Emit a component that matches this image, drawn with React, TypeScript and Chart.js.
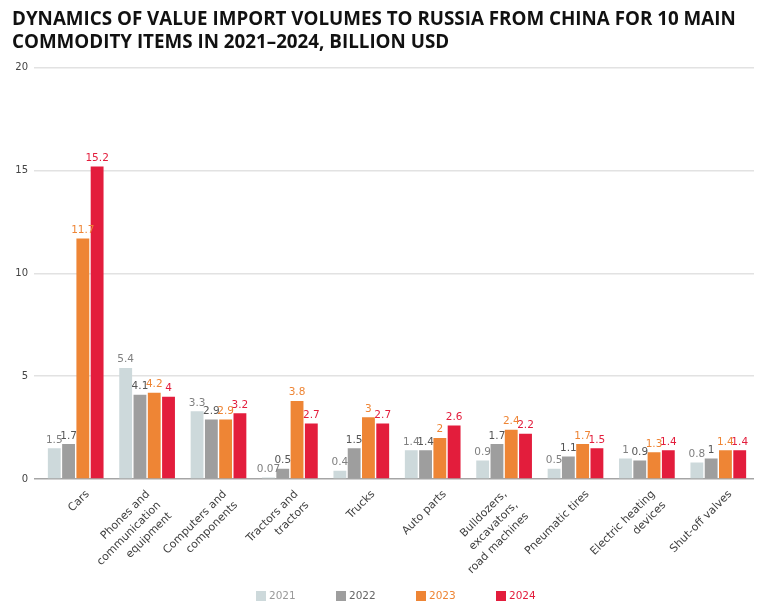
import React, { useEffect, useRef } from "react";
import { Chart, registerables } from "chart.js";

Chart.register(...registerables);

const categories: string[][] = [
  ["Cars"],
  ["Phones and", "communication", "equipment"],
  ["Computers and", "components"],
  ["Tractors and", "tractors"],
  ["Trucks"],
  ["Auto parts"],
  ["Bulldozers,", "excavators,", "road machines"],
  ["Pneumatic tires"],
  ["Electric heating", "devices"],
  ["Shut-off valves"],
];

const years = ["2021", "2022", "2023", "2024"];
const values2021 = [1.5, 5.4, 3.3, 0.07, 0.4, 1.4, 0.9, 0.5, 1, 0.8];
const values2022 = [1.7, 4.1, 2.9, 0.5, 1.5, 1.4, 1.7, 1.1, 0.9, 1];
const values2023 = [11.7, 4.2, 2.9, 3.8, 3, 2, 2.4, 1.7, 1.3, 1.4];
const values2024 = [15.2, 4, 3.2, 2.7, 2.7, 2.6, 2.2, 1.5, 1.4, 1.4];
const yTicks = [0, 5, 10, 15, 20];

const titleLines = [
  "DYNAMICS OF VALUE IMPORT VOLUMES TO RUSSIA FROM CHINA FOR 10 MAIN",
  "COMMODITY ITEMS IN 2021–2024, BILLION USD",
];

const barColors = ["#CDD9DB", "#9E9E9E", "#EE8535", "#E31D3C"];
const labelColors = ["#808080", "#555555", "#EE8535", "#E31D3C"];
const legendTextColors = ["#9a9a9a", "#666666", "#EE8535", "#E31D3C"];

const FONT = "'DejaVu Sans', sans-serif";

const customPlugin = {
  id: "customDraw",
  afterDatasetsDraw(chart: any) {
    const ctx = chart.ctx;
    ctx.save();
    ctx.font = `10.5px ${FONT}`;
    ctx.textAlign = "center";
    ctx.textBaseline = "bottom";
    chart.data.datasets.forEach((ds: any, di: number) => {
      const meta = chart.getDatasetMeta(di);
      ctx.fillStyle = labelColors[di];
      meta.data.forEach((bar: any, i: number) => {
        ctx.fillText(String(ds.data[i]), bar.x, bar.y - 3);
      });
    });
    ctx.restore();
  },
  afterDraw(chart: any) {
    const ctx = chart.ctx;
    const xScale = chart.scales.x;
    const area = chart.chartArea;
    ctx.save();
    ctx.font = `11px ${FONT}`;
    ctx.fillStyle = "#3f3f3f";
    ctx.textAlign = "right";
    ctx.textBaseline = "middle";
    const step = 11;
    categories.forEach((lines, i) => {
      const tx = xScale.getPixelForTick(i);
      const n = lines.length;
      lines.forEach((line, k) => {
        const rx = tx + 12 - ((n - 1) / 2) * step + k * step;
        const ry = area.bottom + 13.5 + k * step;
        ctx.save();
        ctx.translate(rx, ry);
        ctx.rotate(-Math.PI / 4);
        ctx.fillText(line, 0, 0);
        ctx.restore();
      });
    });
    ctx.font = `10.5px ${FONT}`;
    ctx.textAlign = "left";
    ctx.textBaseline = "middle";
    const center = (area.left + area.right) / 2;
    const spacing = 80;
    const start = center - 141;
    const ly = 596;
    years.forEach((y, i) => {
      const bx = start + i * spacing;
      ctx.fillStyle = barColors[i];
      ctx.fillRect(bx, ly - 5, 10, 10);
      ctx.fillStyle = legendTextColors[i];
      ctx.fillText(y, bx + 13, ly + 0.5);
    });
    ctx.restore();
  },
};

export default function App() {
  const canvasRef = useRef<HTMLCanvasElement | null>(null);

  useEffect(() => {
    if (!canvasRef.current) return;
    const seriesValues = [values2021, values2022, values2023, values2024];
    const chart = new Chart(canvasRef.current, {
      type: "bar",
      data: {
        labels: categories.map((c) => c.join(" ")),
        datasets: years.map((y, i) => ({
          label: y,
          data: seriesValues[i],
          backgroundColor: barColors[i],
          borderWidth: 0,
          categoryPercentage: 0.8,
          barPercentage: 0.9,
        })),
      },
      options: {
        animation: false,
        responsive: true,
        maintainAspectRatio: false,
        layout: { padding: { left: 12, right: 17, top: 0, bottom: 0 } },
        font: { family: FONT },
        plugins: {
          legend: { display: false },
          tooltip: { enabled: false },
          title: {
            display: true,
            text: titleLines,
            align: "start",
            color: "#111111",
            font: { family: "'Open Sans', sans-serif", size: 18.8, weight: "bold", lineHeight: 1.22 },
            padding: { top: 8, bottom: 14 },
          },
        },
        scales: {
          x: {
            grid: { display: false },
            border: { display: false },
            ticks: { display: false },
            afterFit(scale: any) {
              scale.height = 131;
            },
          },
          y: {
            min: 0,
            max: 20,
            afterBuildTicks(scale: any) {
              scale.ticks = yTicks.map((v) => ({ value: v }));
            },
            afterFit(scale: any) {
              scale.width = 28;
            },
            border: { display: false },
            grid: {
              color: (c: any) => (c.tick && c.tick.value === 0 ? "#a5a5a5" : "#e2e2e2"),
              lineWidth: 1.5,
              tickLength: 6,
              drawTicks: true,
            },
            ticks: {
              padding: 6,
              color: "#444444",
              font: { family: FONT, size: 10 },
            },
          },
        },
      },
      plugins: [customPlugin],
    });
    return () => chart.destroy();
  }, []);

  return (
    <div style={{ position: "fixed", left: 0, top: 0, width: "771px", height: "610px", background: "#ffffff" }}>
      <canvas ref={canvasRef} />
    </div>
  );
}
